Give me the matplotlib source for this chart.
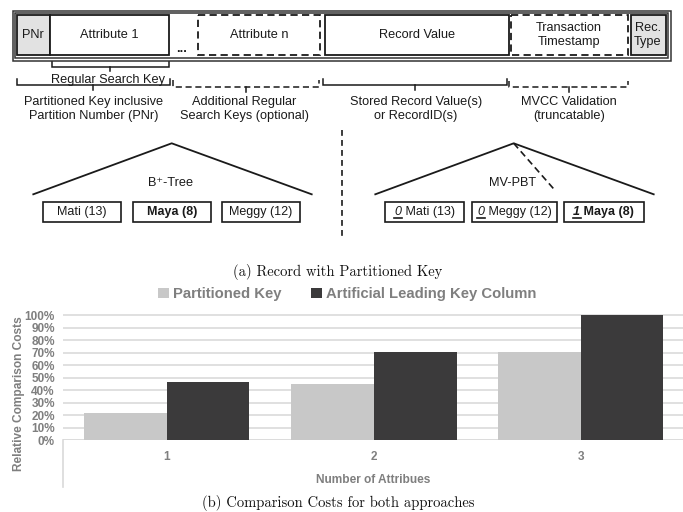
import matplotlib
matplotlib.use("Agg")
import matplotlib.pyplot as plt
from matplotlib.patches import Rectangle, Patch
import numpy as np

# ---------------- bar chart data ----------------
categories = ["1", "2", "3"]
partitioned_key = [22, 45, 71]
artificial_leading = [47, 70.5, 100]
series_names = ["Partitioned Key", "Artificial Leading Key Column"]
y_ticks = list(range(0, 101, 10))
y_tick_labels = [f"{v}%" for v in y_ticks]
x_label = "Number of Attribues"
y_label = "Relative Comparison Costs"

# ---------------- record layout labels ----------------
field_labels = ["PNr", "Attribute 1", "Attribute n", "Record Value",
                "Transaction\nTimestamp", "Rec.\nType"]
group_labels = ["Partitioned Key inclusive\nPartition Number (PNr)",
                "Additional Regular\nSearch Keys (optional)",
                "Stored Record Value(s)\nor RecordID(s)",
                "MVCC Validation\n(truncatable)"]
inner_key_label = "Regular Search Key"
tree_names = ["B\u207a-Tree", "MV-PBT"]
btree_leaves = [("Mati (13)", False), ("Maya (8)", True), ("Meggy (12)", False)]
mvpbt_leaves = [("0", " Mati (13)", False), ("0", " Meggy (12)", False),
                ("1", " Maya (8)", True)]
captions = ["(a) Record with Partitioned Key",
            "(b) Comparison Costs for both approaches"]

W, H = 683, 512
SANS = ["Liberation Sans", "DejaVu Sans"]
FS = 9.2
FS_LEAF = 9.0
INK = "#1a1a1a"
GRAYFILL = "#e2e2e2"
DASH = (0, (4, 2.4))

fig = plt.figure(figsize=(W / 100, H / 100), dpi=100)
dg = fig.add_axes([0, 0, 1, 1])
dg.set_xlim(0, W)
dg.set_ylim(H, 0)
dg.axis("off")


def box(x0, x1, y0, y1, dashed=False, fill="white", lw=1.3):
    dg.add_patch(Rectangle((x0, y0), x1 - x0, y1 - y0, facecolor=fill,
                           edgecolor=INK, lw=lw,
                           linestyle=DASH if dashed else "-"))


def bracket(x0, x1, ytop, ybar, ytip, dashed=False):
    ls = DASH if dashed else "-"
    xc = (x0 + x1) / 2
    dg.plot([x0, x0, x1, x1], [ytop, ybar, ybar, ytop], color=INK, lw=1.1,
            linestyle=ls, solid_joinstyle="miter")
    dg.plot([xc, xc], [ybar, ytip], color=INK, lw=1.1)


def label(x, y, s, **kw):
    kw.setdefault("fontsize", FS)
    dg.text(x, y, s, ha="center", va="center", family=SANS, color=INK,
            linespacing=1.15, **kw)


# record frame (double border)
dg.add_patch(Rectangle((12.5, 10.5), 658, 50, facecolor="none",
                       edgecolor="#333333", lw=1.1))
dg.add_patch(Rectangle((15, 13), 653, 45, facecolor="none",
                       edgecolor="#333333", lw=1.1))

field_x = [(17, 49.5), (49.5, 169), (198, 319.5), (325, 508.5),
           (510.5, 628), (630.5, 665.5)]
field_dashed = [False, False, True, False, True, False]
field_fill = [GRAYFILL, "white", "white", "white", "white", GRAYFILL]
for lab, (x0, x1), dsh, fc in zip(field_labels, field_x, field_dashed, field_fill):
    box(x0, x1, 15, 55, dashed=dsh, fill=fc)
    label((x0 + x1) / 2, 35, lab)
dg.text(181.5, 52, "...", ha="center", va="baseline", family=SANS,
        fontsize=FS, color=INK, fontweight="bold")

# brackets under the record
bracket(51.5, 168.5, 61.5, 67, 70.5)
label(108, 79.5, inner_key_label)
bracket(16.5, 170, 78.5, 85, 89.5)
bracket(173, 318.5, 80, 87, 91.5, dashed=True)
bracket(323, 506.5, 79, 85, 90)
bracket(509, 628, 81, 87, 91.5, dashed=True)
for lab, xc in zip(group_labels, [94, 244, 416, 569]):
    label(xc, 109, lab)

# separator between the two trees
dg.plot([342.3, 342.3], [130, 237], color=INK, lw=1.2, linestyle=(0, (3.5, 2.5)))

# trees
for off, name in zip([0, 342], tree_names):
    apex = (171.7 + off, 143.3)
    dg.plot([33.3 + off, apex[0], 311.7 + off], [194.3, apex[1], 194.3],
            color=INK, lw=1.3)
    label(171.7 + off - 1, 182.5, name)
dg.plot([513.7, 555.3], [143.3, 190.7], color=INK, lw=1.2, linestyle=DASH)

leaf_y0, leaf_y1 = 202.3, 221.7
leaf_yc = (leaf_y0 + leaf_y1) / 2
for (txt, bold), (x0, x1) in zip(btree_leaves,
                                 [(42.7, 120.7), (132.7, 210.7), (221.7, 300)]):
    box(x0, x1, leaf_y0, leaf_y1, lw=1.2)
    label((x0 + x1) / 2, leaf_yc, txt, fontweight="bold" if bold else "normal",
          fontsize=FS_LEAF)

renderer = fig.canvas.get_renderer()
for (ver, txt, bold), (x0, x1) in zip(mvpbt_leaves,
                                      [(385.3, 463.7), (472, 557), (563.7, 643.7)]):
    box(x0, x1, leaf_y0, leaf_y1, lw=1.2)
    w = "bold" if bold else "normal"
    t1 = dg.text(0, leaf_yc, ver, ha="left", va="center", family=SANS,
                 fontsize=FS_LEAF, color=INK, fontstyle="italic", fontweight=w)
    t2 = dg.text(0, leaf_yc, txt, ha="left", va="center", family=SANS,
                 fontsize=FS_LEAF, color=INK, fontweight=w)
    w1 = t1.get_window_extent(renderer).width
    w2 = t2.get_window_extent(renderer).width
    xs = (x0 + x1) / 2 - (w1 + w2) / 2
    t1.set_x(xs)
    t2.set_x(xs + w1)
    dg.plot([xs - 0.5, xs + w1 + 0.5], [leaf_yc + 6.4, leaf_yc + 6.4],
            color=INK, lw=1.2)

# captions
CAP = dict(family="cmr10", fontsize=10.5, ha="center", va="center", color="#111111")
dg.text(338, 272, captions[0], **CAP)
dg.text(338.5, 503, captions[1], **CAP)

# ---------------- bar chart ----------------
AX_L, AX_B = 63.2, 440.3
PX_PER_PCT = 1.25
GROUP_PX = 207
ymax = 101
ax = fig.add_axes([AX_L / W, 1 - AX_B / H, (W - AX_L) / W, ymax * PX_PER_PCT / H])
ax.set_facecolor("none")
x = np.arange(1, len(categories) + 1)
ax.bar(x - 0.2, partitioned_key, 0.4, color="#c8c8c8", zorder=3,
       label=series_names[0])
ax.bar(x + 0.2, artificial_leading, 0.4, color="#3b3a3b", zorder=3,
       label=series_names[1])
ax.set_xlim(0.5, 0.5 + (W - AX_L) / GROUP_PX)
ax.set_ylim(0, ymax)
ax.set_xticks(x)
ax.set_xticklabels(categories)
ax.set_yticks(y_ticks)
ax.set_yticklabels(y_tick_labels)
ax.grid(axis="y", color="#dddddd", lw=1.3, zorder=0)
ax.axhline(0, color="#d0d0d0", lw=1.3, zorder=1)
for s in ax.spines.values():
    s.set_visible(False)
TXT = "#7f7f7f"
ax.tick_params(axis="both", length=0, colors=TXT, labelsize=8.5)
ax.tick_params(axis="y", pad=6)
ax.tick_params(axis="x", pad=8)
for t in ax.get_xticklabels() + ax.get_yticklabels():
    t.set_fontweight("bold")
    t.set_family(SANS)
ax.set_ylabel(y_label, fontsize=8.6, fontweight="bold", color=TXT, family=SANS,
              va="center")
ax.yaxis.set_label_coords(-(AX_L - 18.5) / (W - AX_L), 0.37)
ax.set_xlabel(x_label, fontsize=8.6, fontweight="bold", color=TXT, family=SANS,
              va="center")
ax.xaxis.set_label_coords(0.5, -(480 - AX_B) / (ymax * PX_PER_PCT))
ax.plot([0, 0], [0, -(487 - AX_B) / (ymax * PX_PER_PCT)],
        transform=ax.transAxes, color="#d9d9d9", lw=1.2, clip_on=False)

handles = [Patch(facecolor="#c8c8c8"), Patch(facecolor="#3b3a3b")]
leg = fig.legend(handles, series_names, loc="center",
                 bbox_to_anchor=(347.5 / W, 1 - 294 / H), ncol=2, frameon=False,
                 handlelength=0.7, handleheight=0.7, handletextpad=0.3,
                 columnspacing=2.0, prop=dict(family=SANS, weight="bold", size=10.7))
for t in leg.get_texts():
    t.set_color(TXT)

fig.savefig("out.png", dpi=100)
